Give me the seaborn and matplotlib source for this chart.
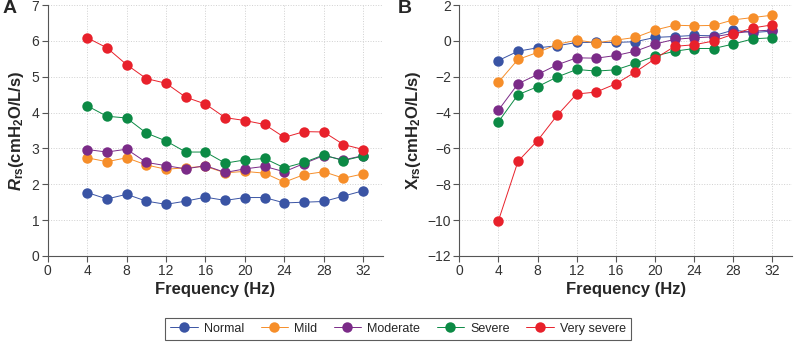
import numpy as np
import pandas as pd
import matplotlib
matplotlib.use("Agg")
import matplotlib.pyplot as plt
import seaborn as sns

# frequency points (Hz)
freq = [4, 6, 8, 10, 12, 14, 16, 18, 20, 22, 24, 26, 28, 30, 32]
groups = ["Normal", "Mild", "Moderate", "Severe", "Very severe"]
colors = ["#3a54a4", "#f68e2a", "#7b2b88", "#0c8a45", "#e8212b"]

# Rrs (cmH2O/L/s)
rrs_normal = [1.77, 1.59, 1.72, 1.53, 1.44, 1.53, 1.64, 1.55, 1.63, 1.63, 1.48, 1.50, 1.52, 1.67, 1.82]
rrs_mild = [2.74, 2.63, 2.74, 2.54, 2.42, 2.46, 2.50, 2.32, 2.36, 2.31, 2.06, 2.27, 2.35, 2.17, 2.29]
rrs_moderate = [2.97, 2.90, 2.98, 2.61, 2.52, 2.43, 2.52, 2.33, 2.43, 2.50, 2.35, 2.58, 2.80, 2.68, 2.80]
rrs_severe = [4.19, 3.90, 3.85, 3.43, 3.21, 2.90, 2.90, 2.59, 2.68, 2.72, 2.46, 2.61, 2.82, 2.66, 2.79]
rrs_very = [6.09, 5.81, 5.34, 4.95, 4.82, 4.43, 4.24, 3.86, 3.78, 3.67, 3.31, 3.47, 3.46, 3.11, 2.97]

# Xrs (cmH2O/L/s)
xrs_normal = [-1.09, -0.57, -0.38, -0.27, -0.08, -0.08, -0.08, -0.04, 0.20, 0.25, 0.31, 0.29, 0.61, 0.47, 0.55]
xrs_mild = [-2.30, -1.03, -0.64, -0.19, 0.05, -0.10, 0.05, 0.20, 0.61, 0.88, 0.85, 0.87, 1.18, 1.31, 1.44]
xrs_moderate = [-3.86, -2.39, -1.87, -1.33, -0.94, -0.96, -0.81, -0.57, -0.17, 0.09, 0.18, 0.23, 0.42, 0.55, 0.61]
xrs_severe = [-4.51, -3.00, -2.55, -2.01, -1.59, -1.68, -1.61, -1.25, -0.84, -0.57, -0.42, -0.42, -0.17, 0.12, 0.18]
xrs_very = [-10.03, -6.72, -5.56, -4.15, -2.96, -2.85, -2.39, -1.73, -0.99, -0.30, -0.21, 0.00, 0.38, 0.73, 0.90]

rrs = [rrs_normal, rrs_mild, rrs_moderate, rrs_severe, rrs_very]
xrs = [xrs_normal, xrs_mild, xrs_moderate, xrs_severe, xrs_very]

rows = []
for g, r, x in zip(groups, rrs, xrs):
    for f, rv, xv in zip(freq, r, x):
        rows.append({"freq": f, "group": g, "Rrs": rv, "Xrs": xv})
df = pd.DataFrame(rows)

sns.set_style("white")
plt.rcParams["font.family"] = ["Liberation Sans", "DejaVu Sans"]
plt.rcParams["mathtext.fontset"] = "custom"
plt.rcParams["mathtext.rm"] = "Liberation Sans:bold"
plt.rcParams["mathtext.it"] = "Liberation Sans:italic:bold"
plt.rcParams["mathtext.bf"] = "Liberation Sans:bold"

fig = plt.figure(figsize=(7.96, 3.44), dpi=100)
axA = fig.add_axes([0.060, 0.256, 0.421, 0.729])
axB = fig.add_axes([0.577, 0.256, 0.418, 0.729])

pal = dict(zip(groups, colors))
for ax, col in [(axA, "Rrs"), (axB, "Xrs")]:
    sns.lineplot(data=df, x="freq", y=col, hue="group", hue_order=groups,
                 palette=pal, marker="o", markersize=7.5, markeredgewidth=0,
                 linewidth=0.7, ax=ax, legend=(ax is axA))
    ax.set_xlim(0, 34)
    ax.set_xticks(range(0, 33, 4))
    ax.grid(True, linestyle=":", color="#d0d0d0", linewidth=0.7)
    for s in ["top", "right"]:
        ax.spines[s].set_visible(False)
    for s in ["left", "bottom"]:
        ax.spines[s].set_color("#555555")
        ax.spines[s].set_linewidth(0.8)
    ax.tick_params(axis="both", direction="out", length=4, width=0.8,
                   color="#555555", labelsize=10, labelcolor="#333333",
                   bottom=True, left=True, pad=2)
    ax.set_xlabel("Frequency (Hz)", fontsize=12, fontweight="bold", labelpad=3)

axA.set_ylim(0, 7)
axA.set_yticks(range(0, 8))
axA.set_ylabel(r"$R_{\mathrm{rs}}$(cmH$_{2}$O/L/s)", fontsize=12, fontweight="bold", labelpad=4)
axB.set_ylim(-12, 2)
axB.set_yticks(range(-12, 3, 2))
axB.set_yticklabels([f"\u2212{abs(v)}" if v < 0 else str(v) for v in range(-12, 3, 2)])
axB.set_ylabel(r"$\mathrm{X}_{\mathrm{rs}}$(cmH$_{2}$O/L/s)", fontsize=12, fontweight="bold", labelpad=3)

fig.text(0.003, 0.975, "A", fontsize=14, fontweight="bold", va="center")
fig.text(0.500, 0.975, "B", fontsize=14, fontweight="bold", va="center")

handles, labels = axA.get_legend_handles_labels()
axA.get_legend().remove()
leg = fig.legend(handles, labels, loc="center", bbox_to_anchor=(0.5, 0.045),
                 ncol=5, fontsize=9, frameon=True, fancybox=False,
                 edgecolor="#333333", handlelength=2.2, columnspacing=1.3,
                 handletextpad=0.5, borderpad=0.4)
leg.get_frame().set_linewidth(0.8)

fig.savefig("out.png", dpi=100)
